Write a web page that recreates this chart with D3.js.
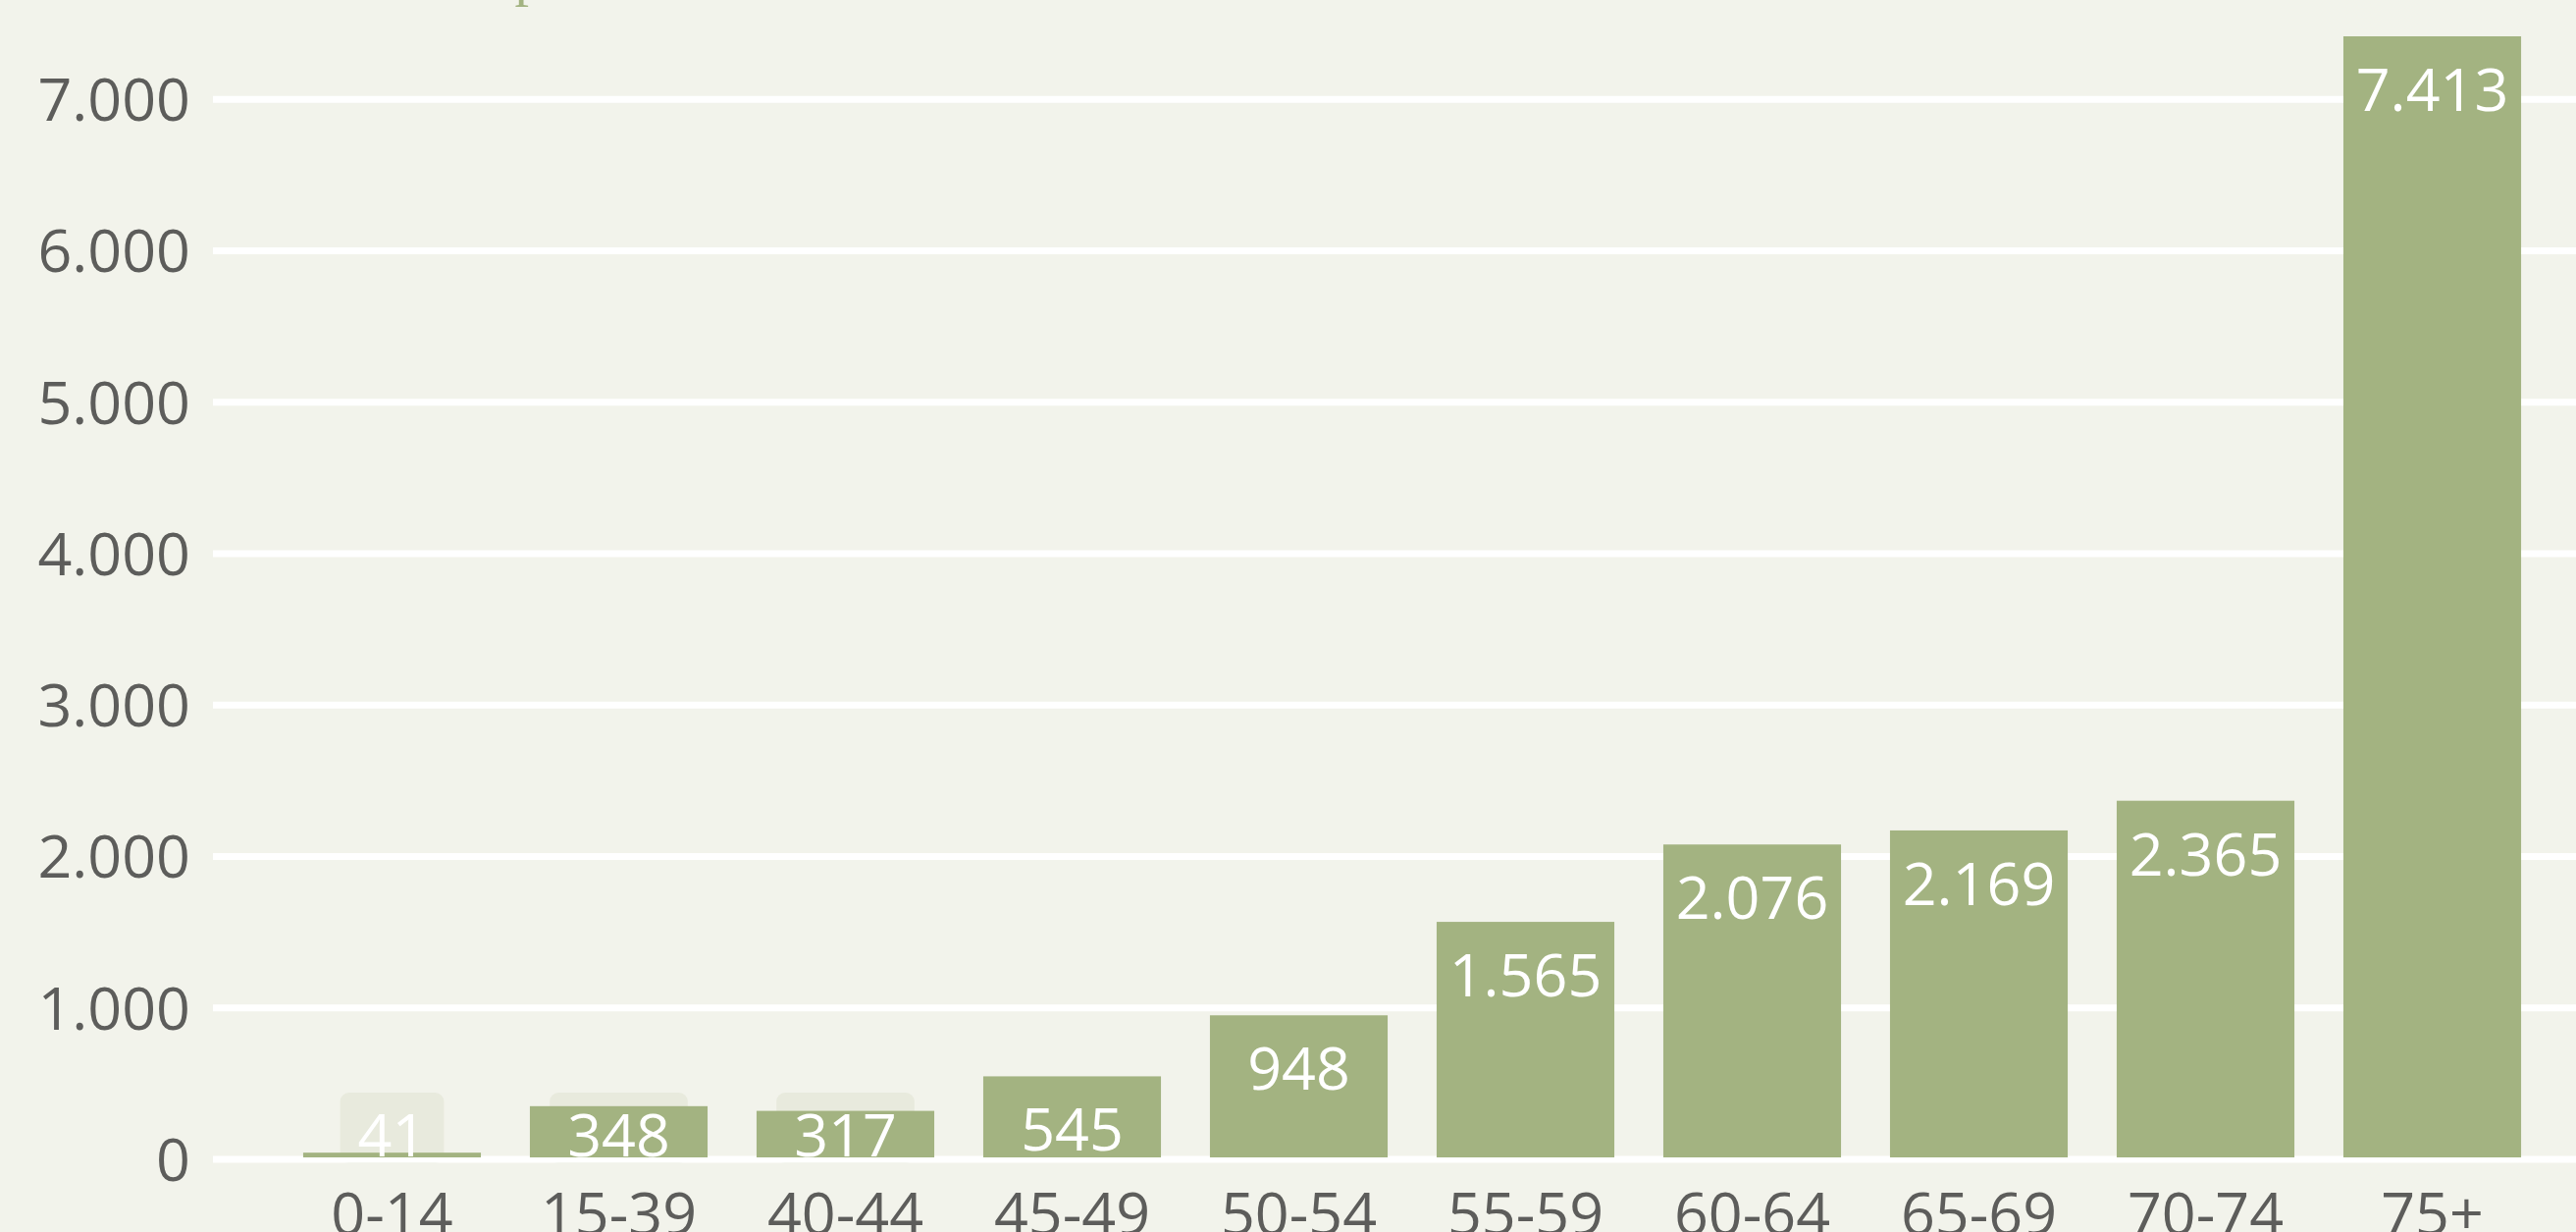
<!DOCTYPE html>
<html>
<head>
<meta charset="utf-8">
<script src="https://cdn.jsdelivr.net/npm/d3@7"></script>
<style>
  html, body { margin: 0; padding: 0; background: #f2f3eb; overflow: hidden; }
  svg { display: block; }
  .axis text { font-family: "Open Sans", sans-serif; font-size: 61px; fill: #5d5d5b; }
  .axis path { display: none; }
  .grid line { stroke: #ffffff; stroke-width: 7; }
  .grid text, .grid path { display: none; }
  .label { font-family: "Open Sans", sans-serif; font-size: 61px; fill: #ffffff; text-anchor: middle; }
</style>
</head>
<body>
<svg class="chart"></svg>
<script>
// chart data
var ageGroups = ["0-14", "15-39", "40-44", "45-49", "50-54", "55-59", "60-64", "65-69", "70-74", "75+"];
var deaths = [41, 348, 317, 545, 948, 1565, 2076, 2169, 2365, 7413];
var yTicks = [0, 1000, 2000, 3000, 4000, 5000, 6000, 7000];

var data = ageGroups.map(function(d, i) { return {group: d, value: deaths[i]}; });

// outer size of the picture
var width = 2625,
  height = 1255,
  plotLeft = 217;

var svg = d3.select(".chart")
    .attr("width", width)
    .attr("height", height);

svg.append("rect")
  .attr("width", width)
  .attr("height", height)
  .attr("fill", "#f2f3eb");

// german style number format (1.000)
var locale = d3.formatLocale({decimal: ",", thousands: ".", grouping: [3], currency: ["", " €"]});
var fmt = locale.format(",d");

// scales
var x = d3.scaleBand()
  .domain(ageGroups)
  .range([plotLeft, 2661])
  .paddingInner(0.216)
  .paddingOuter(0.398);

var y = d3.scaleLinear()
  .domain([0, 7000])
  .range([1180.5, 100.7]);

// leftover of the title, cut at the top edge
svg.append("text")
  .attr("x", 539)
  .attr("y", -5)
  .attr("text-anchor", "middle")
  .style("font-family", "'Liberation Serif', serif")
  .style("font-size", "58px")
  .style("fill", "#a3b381")
  .text("p");

// label boxes for the bars that are too short to hold their value
var lowOnes = data.filter(function(d) { return y(d.value) + 76 > y(0) - 3; });

var boxes = svg.append("g");

// grid lines
svg.append("g")
  .attr("class", "grid")
  .attr("transform", "translate(" + plotLeft + ",0)")
  .call(d3.axisRight(y).tickValues(yTicks).tickSize(width - plotLeft));

// bars
svg.selectAll(".bar")
  .data(data)
  .enter().append("rect")
  .attr("class", "bar")
  .attr("x", function(d) { return x(d.group); })
  .attr("y", function(d) { return y(d.value); })
  .attr("width", x.bandwidth())
  .attr("height", function(d) { return y(0) - y(d.value) - 1.5; })
  .attr("fill", "#a3b381");

// value labels
var labels = svg.selectAll(".label")
  .data(data)
  .enter().append("text")
  .attr("class", "label")
  .attr("x", function(d) { return x(d.group) + x.bandwidth() / 2; })
  .attr("y", function(d) { return Math.min(y(d.value) + 76, y(0) - 3); })
  .text(function(d) { return fmt(d.value); });

labels.filter(function(d) { return y(d.value) + 76 > y(0) - 3; })
  .each(function(d) {
    var w = this.getComputedTextLength() + 36;
    var cx = x(d.group) + x.bandwidth() / 2;
    boxes.append("rect")
      .attr("x", cx - w / 2)
      .attr("y", y(0) - 67.5)
      .attr("width", w)
      .attr("height", 72)
      .attr("rx", 9)
      .attr("fill", "#e8eadd");
  });

// y axis labels
svg.append("g")
  .attr("class", "axis")
  .attr("transform", "translate(" + plotLeft + ",0)")
  .call(d3.axisLeft(y).tickValues(yTicks).tickSize(0).tickPadding(23).tickFormat(fmt))
  .selectAll("text")
  .attr("dy", "0.36em");

// x axis labels
svg.append("g")
  .attr("class", "axis")
  .attr("transform", "translate(0," + y(0) + ")")
  .call(d3.axisBottom(x).tickSize(0).tickPadding(34));
</script>
</body>
</html>
